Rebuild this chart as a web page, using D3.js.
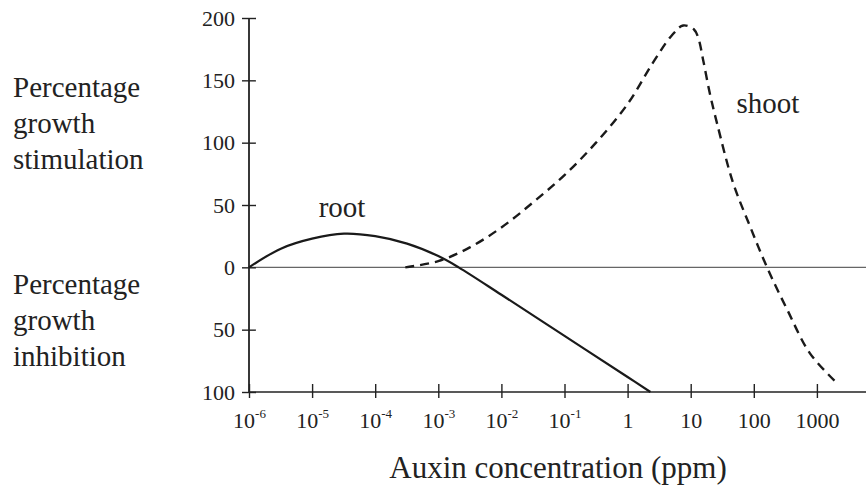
<!DOCTYPE html>
<html>
<head>
<meta charset="utf-8">
<script src="https://cdn.jsdelivr.net/npm/d3@7"></script>
<style>
  body { margin: 0; background: #fff; }
  svg text { font-family: "Liberation Serif", "Tinos", "Times New Roman", "Times", "DejaVu Serif", "Noto Serif", serif; fill: #222; }
</style>
</head>
<body>
<svg id="chart"></svg>
<script>
// auxin concentration (ppm) vs percentage growth (+ stimulation / - inhibition)
const rootConc   = [1e-6, 3.2e-6, 1e-5, 3.2e-5, 1e-4, 3.2e-4, 1e-3, 2.1e-3, 1e-2, 0.1, 1, 2.3];
const rootGrowth = [0, 15, 23, 27, 25, 19, 9, 0, -22, -55, -88, -100];

const shootConc   = [3e-4, 1e-3, 3.16e-3, 1e-2, 3.16e-2, 0.1, 0.316, 1, 2.51, 5.01, 7.59, 11.2, 13.2, 15.8, 20, 26.3, 46.8, 87, 162, 339, 776, 2090];
const shootGrowth = [0, 5, 16, 32, 52, 74, 100, 131, 164, 186, 194, 191, 184, 166, 140, 115, 68, 33, 0, -34, -69, -93];

const xTickValues = [1e-6, 1e-5, 1e-4, 1e-3, 1e-2, 1e-1, 1, 10, 100, 1000];
const xTickBase   = ["10", "10", "10", "10", "10", "10", "1", "10", "100", "1000"];
const xTickExp    = ["-6", "-5", "-4", "-3", "-2", "-1", "", "", "", ""];

const yTickValues = [200, 150, 100, 50, 0, -50, -100];
const yTickLabels = ["200", "150", "100", "50", "0", "50", "100"];

const width = 866, height = 487;

const svg = d3.select("#chart").attr("width", width).attr("height", height);

const x = d3.scaleLog().domain([1e-6, 6000]).range([249, 866]);
const y = d3.scaleLinear().domain([-100, 200]).range([392, 18]);

// zero line
svg.append("line")
    .attr("x1", x(1e-6)).attr("x2", width)
    .attr("y1", y(0)).attr("y2", y(0))
    .attr("stroke", "#666").attr("stroke-width", 1.2);

// x axis
const xAxis = svg.append("g")
    .attr("transform", `translate(0,${y(-100)})`)
    .call(d3.axisBottom(x).tickValues(xTickValues).tickSize(6).tickFormat(""));
xAxis.select(".domain").remove();
xAxis.append("line")
    .attr("x1", x(1e-6)).attr("x2", width)
    .attr("stroke", "#222").attr("stroke-width", 1.6);
xAxis.selectAll(".tick line").attr("y1", -8).attr("y2", 6).attr("stroke", "#222").attr("stroke-width", 1.4);
xAxis.selectAll(".tick text").each(function(d, i) {
    const t = d3.select(this).text(null)
        .attr("y", 36).attr("dy", null)
        .attr("font-size", 22).attr("text-anchor", "middle");
    t.append("tspan").text(xTickBase[i]);
    if (xTickExp[i]) {
        t.append("tspan").attr("font-size", 13).attr("dy", -10).text(xTickExp[i]);
    }
});

// y axis
const yAxis = svg.append("g")
    .attr("transform", `translate(${x(1e-6)},0)`)
    .call(d3.axisLeft(y).tickValues(yTickValues).tickSize(7).tickFormat((d, i) => yTickLabels[i]));
yAxis.select(".domain").remove();
yAxis.append("line")
    .attr("y1", y(200)).attr("y2", y(-100))
    .attr("stroke", "#222").attr("stroke-width", 1.8);
yAxis.selectAll(".tick line").attr("x1", 7).attr("x2", -7).attr("stroke", "#222").attr("stroke-width", 1.4);
yAxis.selectAll(".tick text")
    .attr("x", -14).attr("font-size", 22).attr("font-family", null);

const line = d3.line()
    .x(d => x(d[0]))
    .y(d => y(d[1]))
    .curve(d3.curveCatmullRom.alpha(0.5));

svg.append("path")
    .datum(rootConc.map((c, i) => [c, rootGrowth[i]]))
    .attr("d", line)
    .attr("fill", "none")
    .attr("stroke", "#1a1a1a")
    .attr("stroke-width", 2.2);

svg.append("path")
    .datum(shootConc.map((c, i) => [c, shootGrowth[i]]))
    .attr("d", line)
    .attr("fill", "none")
    .attr("stroke", "#1a1a1a")
    .attr("stroke-width", 2.4)
    .attr("stroke-dasharray", "9,6");

// curve labels
svg.append("text").attr("x", 342).attr("y", 217).attr("text-anchor", "middle")
    .attr("font-size", 29).text("root");
svg.append("text").attr("x", 768).attr("y", 113).attr("text-anchor", "middle")
    .attr("font-size", 29).text("shoot");

// left side labels
const upper = svg.append("text").attr("font-size", 29);
["Percentage", "growth", "stimulation"].forEach((s, i) => {
    upper.append("tspan").attr("x", 13).attr("y", 97 + i * 36).text(s);
});
const lower = svg.append("text").attr("font-size", 29);
["Percentage", "growth", "inhibition"].forEach((s, i) => {
    lower.append("tspan").attr("x", 13).attr("y", 294 + i * 36).text(s);
});

// x axis title
svg.append("text").attr("x", 558).attr("y", 478).attr("text-anchor", "middle")
    .attr("font-size", 31).text("Auxin concentration (ppm)");
</script>
</body>
</html>
